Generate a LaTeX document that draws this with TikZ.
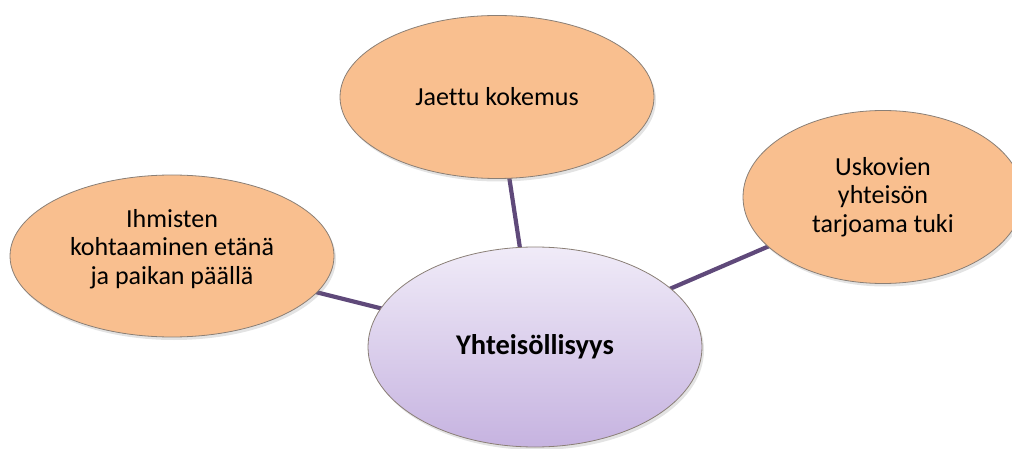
\documentclass[tikz,border=0pt]{standalone}
\usepackage{fontspec}
\setmainfont[Ligatures=NoCommon]{Carlito}
\usetikzlibrary{shapes.geometric,backgrounds,shadows}
\definecolor{orangefill}{HTML}{F9BF8F}
\definecolor{edgegray}{HTML}{8A7F76}
\definecolor{linkpurple}{HTML}{5F497A}
\definecolor{lavtop}{HTML}{F0EBF8}
\definecolor{lavbot}{HTML}{C6B3E0}
\tikzset{
  bubble/.style={ellipse, draw=edgegray, line width=0.8pt, fill=orangefill,
    inner sep=0pt, align=center, font=\fontsize{26}{28.5}\selectfont,
    drop shadow={opacity=0.22, shadow xshift=2pt, shadow yshift=-3pt}},
  hub/.style={ellipse, draw=edgegray, line width=0.8pt, top color=lavtop, bottom color=lavbot,
    inner sep=0pt, align=center, font=\fontsize{28.5}{30}\selectfont\bfseries,
    drop shadow={opacity=0.22, shadow xshift=2pt, shadow yshift=-3pt}},
  link/.style={draw=linkpurple, line width=4.2pt}
}
\begin{document}
\begin{tikzpicture}[x=1pt,y=-1pt]
\useasboundingbox (0,0) rectangle (1012,449);
\node[hub, minimum width=334pt, minimum height=200pt] (hubnode) at (535,347) {Yhteisöllisyys};
\node[bubble, minimum width=314pt, minimum height=163pt] (top) at (497,97) {Jaettu kokemus};
\node[bubble, minimum width=324pt, minimum height=162pt] (left) at (172,256) {};
\node[align=center, font=\fontsize{26}{28.5}\selectfont, inner sep=0pt] (lefttext) at (172,249) {Ihmisten\\kohtaaminen etänä\\ja paikan päällä};
\node[bubble, minimum width=280pt, minimum height=173pt] (right) at (883,197) {Uskovien\\yhteisön\\tarjoama tuki};
\begin{pgfonlayer}{background}
\draw[link] (top.center) -- (hubnode.center);
\draw[link] (left.center) -- (hubnode.center);
\draw[link] (right.center) -- (hubnode.center);
\end{pgfonlayer}
\end{tikzpicture}
\end{document}
